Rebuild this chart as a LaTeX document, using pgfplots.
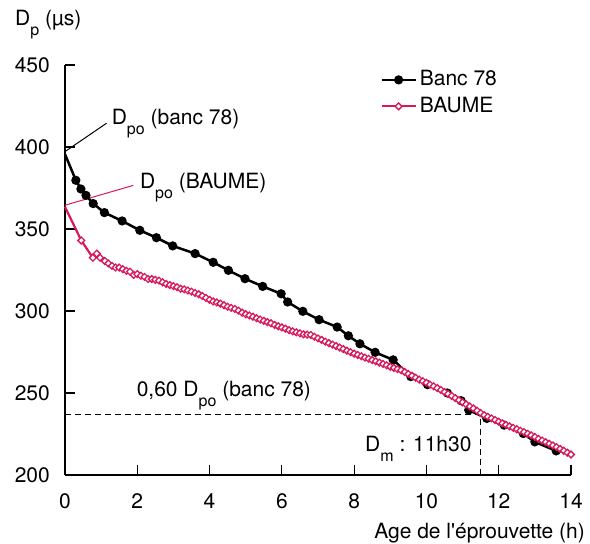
\documentclass[border=0pt]{standalone}
\usepackage{fontspec}
\setmainfont{TeX Gyre Heros}
\usepackage{pgfplots}
\pgfplotsset{compat=1.18}
\definecolor{baume}{RGB}{214,24,92}
\newcommand{\sub}[1]{\raisebox{-10pt}{\fontsize{16}{16}\selectfont #1}}
\begin{document}
\fontsize{21}{25}\selectfont
\begin{tikzpicture}
\path[use as bounding box] (0pt,0pt) rectangle (590pt,544pt);
\begin{axis}[
  at={(65pt,69pt)}, anchor=south west,
  width=506pt, height=410pt, scale only axis,
  xmin=0, xmax=14, ymin=200, ymax=450,
  axis x line*=bottom, axis y line*=left,
  axis line style={line width=1.3pt},
  tick align=inside, major tick length=10pt,
  tick style={black, line width=1.2pt},
  xtick={0,2,...,14}, ytick={200,250,...,450},
  /pgf/number format/assume math mode=true,
  ticklabel style={font=\fontsize{21}{25}\selectfont},
  yticklabel style={xshift=-8pt},
  xticklabel style={yshift=-11pt},
  clip=false,
  legend style={draw=none, fill=none, at={(axis cs:8.72,448.5)}, anchor=north west,
    font=\fontsize{21}{25}\selectfont, row sep=2pt, inner sep=0pt,
    nodes={inner sep=3pt}},
  legend cell align=left,
  legend image code/.code={\draw[#1, mark repeat=2, mark phase=2] plot coordinates {(0pt,0pt) (17pt,0pt) (34pt,0pt)};},
]
\addplot[black, line width=2.5pt, mark=*, mark size=3.3pt, mark repeat=1, mark phase=2, mark options={solid}] coordinates {
(0,395.6) (0.30,379.7) (0.44,374.4) (0.58,370.5) (0.78,365.5) (1.09,360) (1.58,354.9)
(2.07,349.2) (2.53,344.7) (2.98,339.7) (3.60,335) (4.10,329.7) (4.52,324.8) (4.98,319.7)
(5.47,315) (5.98,310.5) (6.16,305.5) (6.58,299.8) (7.03,294.7) (7.53,290.2) (7.84,284.9)
(8.16,280) (8.58,274.8) (9.08,270.2) (9.57,260) (10.03,255.1) (10.58,250) (10.96,245.3)
(11.17,239.6) (11.67,234.5) (12.15,230.4) (12.68,225.3) (13.0,220.2) (13.59,214.7)
};
\addlegendentry{Banc 78}
\addplot[baume, line width=2.2pt, mark=square*, mark size=2.4pt, mark repeat=1, mark phase=2, mark options={solid, rotate=45, fill=white, line width=1.3pt}] coordinates {
(0,363.5) (0.45,343) (0.77,332.5) (0.88,335) (0.97,332.5)
(1.1,330.5) (1.2,329.0) (1.3,327.5) (1.4,326.5) (1.5,326.5) (1.6,325.5) (1.7,324.5) (1.8,324.0) (1.9,322.0)
(2.0,322.5) (2.1,321.5) (2.2,320.8) (2.3,319.5) (2.4,319.5) (2.5,319.0) (2.6,318.5) (2.7,317.5) (2.8,316.5) (2.9,315.8)
(3.0,315.2) (3.1,314.5) (3.2,313.6) (3.3,313.2) (3.4,312.5) (3.5,311.8) (3.6,311.0) (3.7,310.2) (3.8,309.2) (3.9,308.0)
(4.0,306.8) (4.1,305.8) (4.2,305.2) (4.3,304.5) (4.4,303.5) (4.5,302.6) (4.6,301.9) (4.7,301.2) (4.8,300.2) (4.9,299.0)
(5.0,298.0) (5.1,297.3) (5.2,296.5) (5.3,295.6) (5.4,294.8) (5.5,294.0) (5.6,293.2) (5.7,292.5) (5.8,291.5) (5.9,290.7)
(6.0,290.0) (6.1,289.2) (6.2,288.3) (6.3,287.6) (6.4,287.0) (6.5,286.4) (6.6,285.8) (6.7,285.6) (6.8,285.4) (6.9,284.3)
(7.0,283.3) (7.1,282.4) (7.2,281.3) (7.3,280.4) (7.4,279.5) (7.5,278.6) (7.6,277.7) (7.7,276.8) (7.8,275.8) (7.9,274.9)
(8.0,274.0) (8.1,273.2) (8.2,272.4) (8.3,271.6) (8.4,270.9) (8.5,270.1) (8.6,269.3) (8.7,268.5) (8.8,267.7) (8.9,266.9)
(9.0,266.0) (9.1,265.3) (9.2,264.6) (9.3,263.9) (9.4,262.8) (9.5,261.6) (9.6,260.5) (9.7,259.3) (9.8,258.2) (9.9,257.2)
(10.0,256.2) (10.1,255.1) (10.2,254.1) (10.3,253.0) (10.4,251.8) (10.5,250.6) (10.6,249.4) (10.7,248.2) (10.8,246.9) (10.9,245.6)
(11.0,244.3) (11.1,243.0) (11.2,241.8) (11.3,240.6) (11.4,239.2) (11.5,237.8) (11.6,236.5) (11.7,235.5) (11.8,234.5) (11.9,233.5)
(12.0,232.5) (12.1,231.5) (12.2,230.6) (12.3,229.7) (12.4,228.8) (12.5,227.9) (12.6,227.0) (12.7,226.1) (12.8,225.1) (12.9,224.2)
(13.0,223.2) (13.1,222.0) (13.2,221.0) (13.3,220.0) (13.4,219.0) (13.5,218.0) (13.6,217.0) (13.7,215.9) (13.8,214.8) (13.9,213.6)
(14.0,212.5)
};
\addlegendentry{BAUME}
\draw[black, line width=1.1pt, dash pattern=on 6pt off 4pt] (axis cs:0,237) -- (axis cs:11.5,237) -- (axis cs:11.5,200);
\draw[black, line width=1pt] (axis cs:0,397.2) -- (axis cs:1.15,414.5);
\node[anchor=base west, inner sep=0pt] at (axis cs:1.29,414) {D\sub{po} (banc 78)};
\draw[baume, line width=1pt] (axis cs:0,364.5) -- (axis cs:1.89,376.6);
\node[anchor=base west, inner sep=0pt] at (axis cs:2.07,374.8) {D\sub{po} (BAUME)};
\node[anchor=base west, inner sep=0pt] at (axis cs:1.98,247.7) {0,60 D\sub{po} (banc 78)};
\node[anchor=base west, inner sep=0pt] at (axis cs:8.30,214.2) {D\sub{m} : 11h30};
\end{axis}
\node[anchor=base west, inner sep=0pt] at (15pt,518pt) {D\sub{p} (µs)};
\node[anchor=base east, inner sep=0pt] at (585pt,5.7pt) {Age de l\textquotesingle éprouvette (h)};
\end{tikzpicture}
\end{document}
